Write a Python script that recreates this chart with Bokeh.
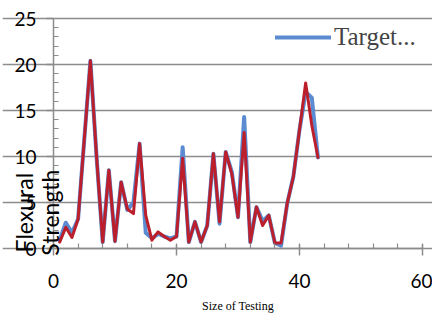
from bokeh.plotting import figure
from bokeh.models import FixedTicker, Range1d, Label, Legend, LegendItem
from bokeh.embed import file_html
from bokeh.resources import INLINE
import math

# ---- data ----
x_vals = list(range(1, 44))
target = [0.9, 2.8, 1.7, 3.2, 11.8, 20.4, 10.0, 0.7, 8.5, 0.8,
          7.2, 4.2, 5.0, 11.4, 1.7, 1.1, 1.6, 1.3, 1.1, 1.3,
          11.0, 0.7, 2.9, 0.7, 2.5, 10.3, 2.7, 10.5, 8.3, 3.4,
          14.3, 0.7, 4.5, 3.0, 3.6, 0.6, 0.3, 4.9, 7.8, 12.9,
          17.0, 16.4, 9.9]
actual = [0.7, 2.3, 1.2, 3.2, 11.8, 20.4, 10.0, 0.7, 8.5, 0.8,
          7.2, 4.3, 3.8, 11.4, 3.6, 0.9, 1.8, 1.3, 0.9, 1.3,
          9.8, 0.7, 2.9, 0.7, 2.5, 10.3, 2.9, 10.5, 8.1, 3.4,
          12.6, 0.7, 4.5, 2.5, 3.6, 0.6, 0.6, 4.9, 7.8, 12.9,
          18.0, 13.4, 9.9]
x_ticks = [0, 20, 40, 60]
y_ticks = [0, 5, 10, 15, 20, 25]
legend_text = "Target..."
x_title = "Size of Testing"
y_title_lines = ["Flexural", "Strength"]

SANS = "Lato"
SERIF = "Liberation Serif"
GRID = "#8c8c8c"

X_MIN, X_MAX = 0, 60
Y_MIN, Y_MAX = 0, 25
PX_X = 6.15   # px per x unit
PX_Y = 9.2    # px per y unit
FW, FH = 430, 316
# the frame covers the whole figure; axes sit at x=0 / y=0 inside it
x_start = X_MIN - 51 / PX_X
x_end = x_start + FW / PX_X
y_start = Y_MIN - 69 / PX_Y
y_end = y_start + FH / PX_Y

p = figure(frame_width=FW, frame_height=FH, output_backend="svg",
           toolbar_location=None,
           x_range=Range1d(x_start, x_end), y_range=Range1d(y_start, y_end),
           min_border_left=2, min_border_right=0, min_border_top=1,
           min_border_bottom=0)
p.outline_line_color = None
p.background_fill_color = "white"

# axes
p.xaxis.ticker = FixedTicker(ticks=x_ticks, minor_ticks=list(range(0, 61, 4)))
p.yaxis.ticker = FixedTicker(ticks=y_ticks, minor_ticks=list(range(0, 26)))
p.xaxis.bounds = (X_MIN, X_MAX)
p.yaxis.bounds = (Y_MIN, Y_MAX)
p.xaxis.fixed_location = 0
p.yaxis.fixed_location = 0
for ax in (p.xaxis[0], p.yaxis[0]):
    ax.axis_line_color = GRID
    ax.axis_line_width = 1.5
    ax.major_tick_line_color = GRID
    ax.minor_tick_line_color = GRID
    ax.major_tick_line_width = 1.5
    ax.minor_tick_line_width = 1.2
    ax.major_label_text_font = SANS
    ax.major_label_text_font_size = "19px"
    ax.major_label_text_color = "black"

p.xaxis.major_tick_in = 4
p.xaxis.major_tick_out = 7
p.xaxis.minor_tick_in = 5
p.xaxis.minor_tick_out = 0
p.xaxis.major_label_standoff = 18

p.yaxis.major_tick_in = 0
p.yaxis.major_tick_out = 7
p.yaxis.minor_tick_in = 5
p.yaxis.minor_tick_out = 0
p.yaxis.major_label_standoff = 10

p.xgrid.grid_line_color = None
p.ygrid.grid_line_color = GRID
p.ygrid.grid_line_width = 1.5
p.ygrid.bounds = (X_MIN, X_MAX)
p.ygrid.ticker = FixedTicker(ticks=y_ticks)

# series
r_blue = p.line(x_vals, target, line_color="#5b8bd0", line_width=4,
                line_join="round", line_cap="round")
r_red = p.line(x_vals, actual, line_color="#bb1f2c", line_width=3,
               line_join="round", line_cap="round")

legend = Legend(items=[LegendItem(label=legend_text, renderers=[r_blue])],
                location=(273, 266), orientation="vertical",
                border_line_color=None, background_fill_alpha=0,
                label_text_font=SERIF, label_text_font_size="25px",
                glyph_width=56, glyph_height=26, label_height=26,
                label_standoff=3, padding=0, margin=0, spacing=0)
p.add_layout(legend)

# x title
p.add_layout(Label(x=(X_MIN + X_MAX) / 2, y=-6.2, text=x_title,
                   text_align="center", text_baseline="middle",
                   text_font=SERIF, text_font_size="12px", text_color="black"))

# y title (two rotated lines)
for xd, txt in zip([-4.87, -0.65], y_title_lines):
    p.add_layout(Label(x=xd, y=3.9, text=txt, angle=math.pi / 2,
                       text_align="center", text_baseline="alphabetic",
                       text_font=SANS, text_font_size="23px",
                       text_color="black"))

open("out.html", "w").write(file_html(p, INLINE))
